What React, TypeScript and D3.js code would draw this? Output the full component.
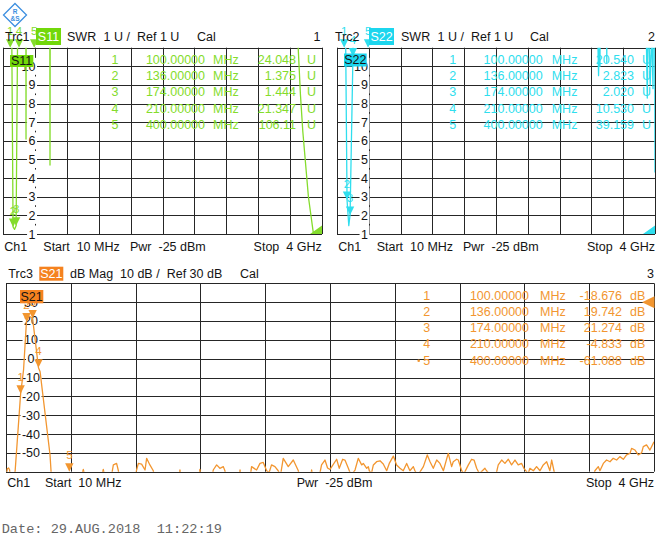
import React from "react";
import * as d3 from "d3";

// ---------- data ----------
const FREQ_START_MHZ = 10;
const FREQ_STOP_MHZ = 4000;

const MARKER_NUMS = ["1", "2", "3", "4", "5"];
const MARKER_FREQ_TXT = ["100.00000", "136.00000", "174.00000", "210.00000", "400.00000"];
const MARKER_FREQ = [100, 136, 174, 210, 400];

const S11_MARKER_TXT = ["24.048", "1.375", "1.444", "21.347", "106.11"];
const S22_MARKER_TXT = ["20.540", "2.823", "2.020", "10.530", "39.159"];
const S21_MARKER_TXT = ["-18.676", "19.742", "21.274", "-4.833", "-61.088"];

const SWR_TICKS = [1, 2, 3, 4, 5, 6, 7, 8, 9, 10];
const SWR_GRID = [1, 2, 3, 4, 5, 6, 7, 8, 9, 10, 11];
const DB_TICKS = [30, 20, 10, 0, -10, -20, -30, -40, -50];
const DB_GRID = [40, 30, 20, 10, 0, -10, -20, -30, -40, -50, -60];

const S11_FREQ = [10, 60, 100, 136, 155, 174, 210, 260, 292, 298, 304, 400, 590, 598, 606, 1000, 2000, 3000, 3650, 3680, 3700, 3730, 3760, 3830, 3890, 3950, 4000];
const S11_SWR = [40, 35, 24.048, 1.375, 1.25, 1.444, 21.347, 35, 30, 6.1, 30, 106.11, 30, 4.7, 30, 40, 45, 40, 35, 14, 11.2, 8.5, 6.5, 3, 1.1, 1.03, 1.1];

const S22_FREQ = [10, 90, 100, 136, 158, 174, 210, 240, 400, 1000, 2000, 3250, 3280, 3292, 3300, 3310, 3320, 3380, 3395, 3405, 3870, 3893, 3903, 3915, 3940, 3958, 3975, 3990, 4000];
const S22_SWR = [35, 30, 20.54, 2.823, 1.45, 2.02, 10.53, 30, 39.159, 40, 45, 30, 12, 9.5, 11.5, 10, 30, 30, 10.2, 30, 30, 11, 8.3, 13, 9, 12, 8.8, 25, 4.3];

const S21_FREQ = [
  10, 18, 26, 32, 38, 60, 66, 100, 118, 136, 152, 174, 210, 220, 281, 292,
  380, 400, 470, 486, 500, 595, 609, 622, 660, 671, 691, 702, 708,
  805, 814, 825, 845, 866, 876, 896, 917, 925,
  1070, 1081, 1092, 1195, 1204, 1215, 1278, 1286, 1307, 1327, 1348, 1358, 1366,
  1442, 1451, 1460, 1515, 1522, 1553, 1574, 1594, 1615, 1630, 1645, 1666, 1686, 1700,
  1717, 1748, 1779, 1810, 1820, 1882, 1892, 1902, 1940, 1953, 1974, 1990,
  2005, 2046, 2062, 2083, 2097, 2118, 2135, 2159, 2179, 2200, 2210, 2231, 2241, 2247, 2260,
  2272, 2292, 2313, 2333, 2354, 2370, 2395, 2415, 2436, 2456, 2477, 2497, 2518, 2528, 2545,
  2580, 2604, 2621, 2641, 2662, 2682, 2703, 2733, 2754, 2764, 2785, 2795, 2816, 2830,
  2857, 2877, 2892, 2908, 2925, 2959, 2969, 2990, 3030, 3041, 3062, 3082, 3103, 3123,
  3144, 3164, 3185, 3199, 3225, 3236, 3257, 3277, 3298, 3318, 3339, 3359, 3370, 3384, 3395,
  3625, 3636, 3657, 3667, 3688, 3708, 3729, 3749, 3770, 3790, 3811, 3831, 3852, 3862,
  3883, 3903, 3924, 3934, 3954, 3975, 4000,
];
const S21_DB = [
  -64, -58.5, -58, -59, -64, -64, -60, -18.676, -6, 19.742, 22.6, 21.274, -4.833, -7, -51, -66,
  -64, -61.088, -64, -58.8, -64, -64, -58.8, -64, -62, -56.4, -55.6, -59.5, -64,
  -64, -59.1, -55.6, -56, -59.1, -52.9, -56.4, -59.5, -64,
  -64, -59.1, -64, -64, -58.8, -64, -64, -59.1, -56.4, -58.2, -57.3, -59.5, -64,
  -64, -59.1, -64, -62, -57.3, -59.1, -55.6, -55.1, -59.5, -60.5, -56.4, -57.3, -59.5, -62,
  -52.9, -57.3, -53.8, -59.5, -64, -64, -59.1, -64, -62, -56.4, -53.8, -58,
  -58.8, -53.4, -58.2, -53.4, -53.8, -58.2, -62, -59.1, -52.9, -56.4, -55.6, -58.2, -57.3, -59.5, -61,
  -56.4, -54.7, -54.2, -55.9, -59.5, -55.6, -51.7, -56.4, -58.2, -59.5, -55.6, -59.5, -57.3, -59.5, -62,
  -57.3, -51.1, -54.7, -58.2, -53.8, -55.6, -59.5, -50.3, -57.3, -54.7, -53.4, -53.8, -59.5, -61,
  -56.4, -53.4, -53.8, -58.2, -61, -58.2, -59.5, -61.5, -60.5, -56.4, -53.8, -55.6, -53.4, -56.4,
  -53.8, -56.4, -55.6, -58.2, -61, -58.2, -59.5, -57.3, -59.5, -56.4, -54.7, -59.5, -53.8, -59.5, -64,
  -64, -59.5, -57.3, -59.5, -55.6, -53.8, -54.7, -52.9, -53.8, -52.0, -53.4, -51.1, -50.3, -47.6,
  -48.5, -51.1, -49.9, -46.7, -45.8, -48.5, -44.1,
];

// ---------- styles ----------
const FONT = "'Liberation Sans', Arial, sans-serif";
const FS = 12.5;
const GREEN = "#84dc2c";
const GREEN_BOX = "#72d80a";
const CYAN = "#2fdeee";
const CYAN_BOX = "#1cd6ee";
const ORANGE = "#f29630";
const ORANGE_BOX = "#f5821f";
const GRID = "#262626";
const INK = "#141414";

function textW(s: string, fs: number) {
  let w = 0;
  for (const ch of s) w += ch === "-" ? 0.333 : ch === "." ? 0.278 : 0.556;
  return w * fs;
}

type Cols = { num: number; freqEnd: number; mhz: number; valEnd: number; unitX: number; base: number; step: number };

type PanelProps = {
  id: string;
  x0: number; x1: number; y0: number; y1: number;
  yMin: number; yMax: number;
  gridVals: number[]; tickVals: number[]; tickX: number; tickAnchor: "middle" | "end"; tickBoxH: number;
  color: string; boxColor: string;
  freq: number[]; vals: number[];
  markerTxt: string[]; unit: string; cols: Cols; activeDot?: boolean;
  refVal: number; refArrow: boolean;
  nameBox: { x: number; y: number; w: number; h: number; label: string };
};

function Panel(p: PanelProps) {
  const xs = d3.scaleLinear().domain([FREQ_START_MHZ, FREQ_STOP_MHZ]).range([p.x0, p.x1]);
  const ys = d3.scaleLinear().domain([p.yMin, p.yMax]).range([p.y1, p.y0]);
  const crisp = (v: number) => Math.round(v) + 0.5;
  const vLines = d3.range(11).map((i) => p.x0 + (i * (p.x1 - p.x0)) / 10);
  const pts: [number, number][] = p.freq.map((f, i) => [f, p.vals[i]]);
  const line = d3.line<[number, number]>().x((d) => xs(d[0])).y((d) => ys(d[1]));
  const markerVals = p.markerTxt.map((t) => parseFloat(t));
  const yRef = ys(p.refVal);
  return (
    <g>
      <defs>
        <clipPath id={p.id}>
          <rect x={p.x0} y={p.y0} width={p.x1 - p.x0} height={p.y1 - p.y0} />
        </clipPath>
      </defs>
      {vLines.map((x, i) => (
        <line key={"v" + i} x1={crisp(x)} x2={crisp(x)} y1={p.y0} y2={p.y1} stroke={GRID} strokeWidth={1} />
      ))}
      {p.gridVals.map((v) => (
        <line key={"h" + v} x1={p.x0} x2={p.x1} y1={crisp(ys(v))} y2={crisp(ys(v))} stroke={GRID} strokeWidth={1} />
      ))}
      {p.tickVals.map((v) => {
        const s = String(v);
        const w = textW(s, FS);
        const y = ys(v);
        const left = p.tickAnchor === "end" ? p.tickX - w : p.tickX - w / 2;
        return (
          <g key={"t" + v}>
            <rect x={left - 1.5} y={y - p.tickBoxH / 2} width={w + 3} height={p.tickBoxH} fill="#fff" />
            <text x={p.tickX} y={y + 4.5} textAnchor={p.tickAnchor} fontFamily={FONT} fontSize={FS} fill={INK}>
              {s}
            </text>
          </g>
        );
      })}
      {/* marker table */}
      {MARKER_NUMS.map((n, i) => {
        const b = p.cols.base + i * p.cols.step;
        return (
          <g key={"m" + i} fontFamily={FONT} fontSize={FS} fill={p.color}>
            {p.activeDot && i === 4 ? <circle cx={p.cols.num - 8} cy={b - 4} r={1.3} fill={p.color} /> : null}
            <text x={p.cols.num} y={b} textAnchor="middle">{n}</text>
            <text x={p.cols.freqEnd} y={b} textAnchor="end">{MARKER_FREQ_TXT[i]}</text>
            <text x={p.cols.mhz} y={b}>MHz</text>
            <text x={p.cols.valEnd} y={b} textAnchor="end">{p.markerTxt[i]}</text>
            <text x={p.cols.unitX} y={b}>{p.unit}</text>
          </g>
        );
      })}
      {/* trace */}
      <path d={line(pts) || ""} fill="none" stroke={p.color} strokeWidth={1.3} clipPath={`url(#${p.id})`} strokeLinejoin="round" />
      {/* markers */}
      {MARKER_FREQ.map((f, i) => {
        const x = xs(f);
        const ty = Math.max(p.y0, Math.min(p.y1, ys(markerVals[i])));
        return (
          <g key={"mk" + i}>
            <path d={`M${x - 4.2},${ty - 8.5}L${x + 4.2},${ty - 8.5}L${x},${ty}Z`} fill={p.color} />
            <text x={x} y={ty - 12.5} textAnchor="middle" fontFamily={FONT} fontSize={11.5} fill={p.color}>
              {MARKER_NUMS[i]}
            </text>
          </g>
        );
      })}
      {/* name box in grid */}
      <rect x={p.nameBox.x} y={p.nameBox.y} width={p.nameBox.w} height={p.nameBox.h} fill={p.boxColor} />
      <text x={p.nameBox.x + p.nameBox.w / 2} y={p.nameBox.y + p.nameBox.h - 2.5} textAnchor="middle" fontFamily={FONT} fontSize={FS} fill={INK}>
        {p.nameBox.label}
      </text>
      {/* reference level symbol */}
      {p.refArrow ? (
        <path d={`M${p.x1 - 12},${yRef}L${p.x1 + 0.5},${yRef - 6}L${p.x1 + 0.5},${yRef + 6}Z`} fill={p.color} />
      ) : (
        <path d={`M${p.x1 - 12},${yRef}L${p.x1},${yRef - 8.5}L${p.x1},${yRef}Z`} fill={p.color} />
      )}
    </g>
  );
}

function Header(props: {
  items: { x: number; t: string; anchor?: "start" | "end" }[];
  base: number;
  box: { x: number; y: number; w: number; h: number; label: string; fill: string };
}) {
  const { items, base, box } = props;
  return (
    <g fontFamily={FONT} fontSize={FS} fill={INK}>
      {items.map((it, i) => (
        <text key={i} x={it.x} y={base} textAnchor={it.anchor || "start"}>
          {it.t}
        </text>
      ))}
      <rect x={box.x} y={box.y} width={box.w} height={box.h} fill={box.fill} />
      <text x={box.x + box.w / 2} y={base} textAnchor="middle" fill="#fff">
        {box.label}
      </text>
    </g>
  );
}

function Footer(props: { base: number; ch: number; start: number; pwr: number; stopEnd: number }) {
  const { base, ch, start, pwr, stopEnd } = props;
  return (
    <g fontFamily={FONT} fontSize={FS} fill={INK}>
      <text x={ch} y={base}>Ch1</text>
      <text x={start} y={base} xmlSpace="preserve">Start  10 MHz</text>
      <text x={pwr} y={base} xmlSpace="preserve">Pwr  -25 dBm</text>
      <text x={stopEnd} y={base} textAnchor="end" xmlSpace="preserve">Stop  4 GHz</text>
    </g>
  );
}

export default function App() {
  const topY0 = 47.7;
  const topY1 = 234;
  return (
    <svg width={660} height={543} style={{ position: "fixed", left: 0, top: 0 }} xmlns="http://www.w3.org/2000/svg">
      <rect x={0} y={0} width={660} height={543} fill="#fff" />
      {/* logo */}
      <g>
        <path d="M15,3.5L26.5,15L15,26.5L3.5,15Z" fill="#fff" stroke="#3d8fe0" strokeWidth={1.3} />
        <text x={15} y={14} textAnchor="middle" fontFamily={FONT} fontSize={6.5} fontWeight="bold" fill="#3d8fe0">R</text>
        <text x={15} y={21} textAnchor="middle" fontFamily={FONT} fontSize={6.5} fontWeight="bold" fill="#3d8fe0">&amp;S</text>
      </g>

      {/* top-left S11 */}
      <Panel
        id="clipS11"
        x0={3} x1={322} y0={topY0} y1={topY1}
        yMin={1} yMax={11}
        gridVals={SWR_GRID} tickVals={SWR_TICKS} tickX={35.5} tickAnchor="end" tickBoxH={17}
        color={GREEN} boxColor={GREEN_BOX}
        freq={S11_FREQ} vals={S11_SWR}
        markerTxt={S11_MARKER_TXT} unit="U"
        cols={{ num: 115, freqEnd: 205, mhz: 213, valEnd: 296, unitX: 307, base: 63.5, step: 16.4 }}
        refVal={1} refArrow={false}
        nameBox={{ x: 10, y: 55, w: 23.3, h: 12, label: "S11" }}
      />
      <Header
        base={40.5}
        items={[
          { x: 5, t: "Trc1" },
          { x: 67, t: "SWR" },
          { x: 103.5, t: "1 U /" },
          { x: 137, t: "Ref 1 U" },
          { x: 197, t: "Cal" },
          { x: 320.5, t: "1", anchor: "end" },
        ]}
        box={{ x: 36, y: 28, w: 25, h: 17, label: "S11", fill: GREEN_BOX }}
      />
      <Footer base={250.5} ch={4.3} start={43.3} pwr={130} stopEnd={321.7} />

      {/* top-right S22 */}
      <Panel
        id="clipS22"
        x0={337} x1={655} y0={topY0} y1={topY1}
        yMin={1} yMax={11}
        gridVals={SWR_GRID} tickVals={SWR_TICKS} tickX={368} tickAnchor="end" tickBoxH={17}
        color={CYAN} boxColor={CYAN_BOX}
        freq={S22_FREQ} vals={S22_SWR}
        markerTxt={S22_MARKER_TXT} unit="U"
        cols={{ num: 452.7, freqEnd: 542.7, mhz: 551.7, valEnd: 634, unitX: 642, base: 63.5, step: 16.4 }}
        refVal={1} refArrow={false}
        nameBox={{ x: 344, y: 53.5, w: 22.7, h: 13, label: "S22" }}
      />
      <Header
        base={40.5}
        items={[
          { x: 335, t: "Trc2" },
          { x: 401, t: "SWR" },
          { x: 437.5, t: "1 U /" },
          { x: 471, t: "Ref 1 U" },
          { x: 530, t: "Cal" },
          { x: 655, t: "2", anchor: "end" },
        ]}
        box={{ x: 369, y: 28, w: 25, h: 17, label: "S22", fill: CYAN_BOX }}
      />
      <Footer base={250.5} ch={338.3} start={376.7} pwr={463} stopEnd={655} />

      {/* bottom S21 */}
      <Panel
        id="clipS21"
        x0={6} x1={654} y0={283.3} y1={471.7}
        yMin={-60} yMax={40}
        gridVals={DB_GRID} tickVals={DB_TICKS} tickX={31} tickAnchor="middle" tickBoxH={12}
        color={ORANGE} boxColor={ORANGE_BOX}
        freq={S21_FREQ} vals={S21_DB}
        markerTxt={S21_MARKER_TXT} unit="dB" activeDot={true}
        cols={{ num: 426.7, freqEnd: 529, mhz: 540, valEnd: 622, unitX: 630, base: 299.5, step: 16.3 }}
        refVal={30} refArrow={true}
        nameBox={{ x: 20, y: 290, w: 23.3, h: 13.3, label: "S21" }}
      />
      <Header
        base={278}
        items={[
          { x: 8.3, t: "Trc3" },
          { x: 70, t: "dB Mag" },
          { x: 120, t: "10 dB /" },
          { x: 166.7, t: "Ref 30 dB" },
          { x: 240, t: "Cal" },
          { x: 654, t: "3", anchor: "end" },
        ]}
        box={{ x: 39.3, y: 266.7, w: 24, h: 14, label: "S21", fill: ORANGE_BOX }}
      />
      <Footer base={487} ch={7.3} start={45} pwr={296.7} stopEnd={654} />

      <text x={1.7} y={533} fontFamily="'Liberation Mono', 'Courier New', monospace" fontSize={13.6} fill="#666" xmlSpace="preserve">
        Date: 29.AUG.2018  11:22:19
      </text>
    </svg>
  );
}
